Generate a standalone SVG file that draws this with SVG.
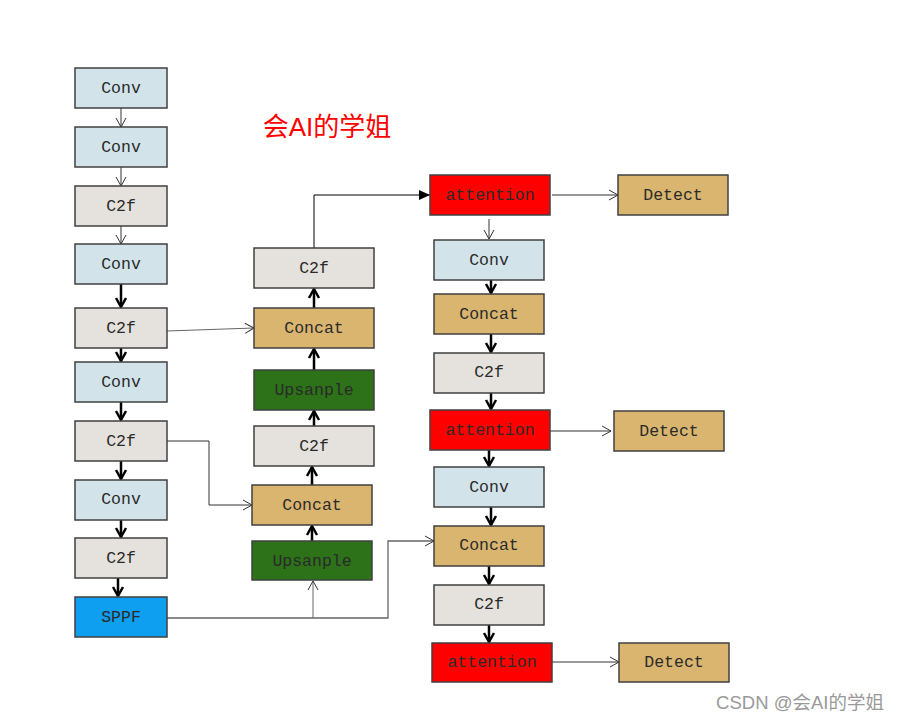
<svg xmlns="http://www.w3.org/2000/svg" width="899" height="721" viewBox="0 0 899 721">
<style>
.b{stroke:#404040;stroke-width:1.5}
.conv{fill:#D2E4EA}.c2f{fill:#E5E1DC}.cat{fill:#D9B56F}.up{fill:#2D7119}.sppf{fill:#0E9FF0}.att{fill:#FF0000}
.t{font-family:"Liberation Mono","Courier New",monospace;font-size:16.5px;fill:#2a2a2a;text-anchor:middle}
.thin{stroke:#333;stroke-width:1;fill:none}
.thick{stroke:#000;stroke-width:2.5;fill:none}
</style>
<defs>
<marker id="o" markerUnits="userSpaceOnUse" markerWidth="12" markerHeight="12" refX="11" refY="6" orient="auto"><path d="M2,1 L11,6 L2,11" fill="none" stroke="#333" stroke-width="1"/></marker>
<marker id="k" markerUnits="userSpaceOnUse" markerWidth="14" markerHeight="14" refX="11" refY="7" orient="auto"><path d="M2,2 L11,7 L2,12" fill="none" stroke="#000" stroke-width="2.5"/></marker>
<marker id="f" markerUnits="userSpaceOnUse" markerWidth="12" markerHeight="12" refX="11" refY="6" orient="auto"><path d="M0,1 L11,6 L0,11 Z" fill="#000"/></marker>
</defs>
<rect width="899" height="721" fill="#fff"/>
<text x="327" y="136" style="font-family:'Liberation Sans','Noto Sans CJK SC',sans-serif;font-size:26px;fill:#FF0000;text-anchor:middle">会AI的学姐</text>
<text x="800" y="709" style="font-family:'Liberation Sans','Noto Sans CJK SC',sans-serif;font-size:18.5px;fill:#999;text-anchor:middle">CSDN @会AI的学姐</text>
<g id="connectors">
<line class="thin" x1="121" y1="108" x2="121" y2="127" marker-end="url(#o)"/>
<line class="thin" x1="121" y1="167" x2="121" y2="186" marker-end="url(#o)"/>
<line class="thin" x1="121" y1="226" x2="121" y2="244" marker-end="url(#o)"/>
<line class="thick" x1="121" y1="284" x2="121" y2="307" marker-end="url(#k)"/>
<line class="thick" x1="121" y1="348" x2="121" y2="361" marker-end="url(#k)"/>
<line class="thick" x1="121" y1="402" x2="121" y2="420" marker-end="url(#k)"/>
<line class="thick" x1="121" y1="461" x2="121" y2="479" marker-end="url(#k)"/>
<line class="thick" x1="121" y1="520" x2="121" y2="537" marker-end="url(#k)"/>
<line class="thick" x1="118" y1="578" x2="118" y2="596" marker-end="url(#k)"/>
<line class="thin" x1="167" y1="331" x2="254" y2="328" marker-end="url(#o)" style="stroke:#666"/>
<polyline class="thin" points="167,441 209,441 209,505 252,505" marker-end="url(#o)"/>
<polyline class="thin" points="167,618 388,618 388,541 434,541" marker-end="url(#o)" style="stroke:#666;stroke-width:1.3"/>
<line class="thin" x1="313" y1="618" x2="313" y2="581" marker-end="url(#o)" style="stroke:#666"/>
<line class="thick" x1="312" y1="541" x2="312" y2="526" marker-end="url(#k)"/>
<line class="thick" x1="312" y1="485" x2="312" y2="467" marker-end="url(#k)"/>
<line class="thick" x1="314" y1="426" x2="314" y2="411" marker-end="url(#k)"/>
<line class="thick" x1="314" y1="370" x2="314" y2="349" marker-end="url(#k)"/>
<line class="thick" x1="314" y1="308" x2="314" y2="289" marker-end="url(#k)"/>
<polyline class="thin" points="314,248 314,195 430,195" marker-end="url(#f)" style="stroke:#000"/>
<line class="thin" x1="552" y1="195" x2="618" y2="195" marker-end="url(#o)"/>
<line class="thin" x1="489" y1="219" x2="489" y2="239" marker-end="url(#o)"/>
<line class="thick" x1="491" y1="280" x2="491" y2="293" marker-end="url(#k)"/>
<line class="thick" x1="491" y1="334" x2="491" y2="352" marker-end="url(#k)"/>
<line class="thick" x1="491" y1="393" x2="491" y2="409" marker-end="url(#k)"/>
<line class="thin" x1="550" y1="431" x2="611" y2="431" marker-end="url(#o)"/>
<line class="thick" x1="489" y1="450" x2="489" y2="466" marker-end="url(#k)"/>
<line class="thick" x1="491" y1="507" x2="491" y2="525" marker-end="url(#k)"/>
<line class="thick" x1="489" y1="566" x2="489" y2="584" marker-end="url(#k)"/>
<line class="thick" x1="489" y1="625" x2="489" y2="642" marker-end="url(#k)"/>
<line class="thin" x1="552" y1="662" x2="619" y2="662" marker-end="url(#o)"/>
</g>
<g id="n1"><rect class="b conv" x="75" y="68" width="92" height="40"/><text class="t" x="121" y="93">Conv</text></g>
<g id="n2"><rect class="b conv" x="75" y="127" width="92" height="40"/><text class="t" x="121" y="152">Conv</text></g>
<g id="n3"><rect class="b c2f" x="75" y="186" width="92" height="40"/><text class="t" x="121" y="211">C2f</text></g>
<g id="n4"><rect class="b conv" x="75" y="244" width="92" height="40"/><text class="t" x="121" y="269">Conv</text></g>
<g id="n5"><rect class="b c2f" x="75" y="308" width="92" height="40"/><text class="t" x="121" y="333">C2f</text></g>
<g id="n6"><rect class="b conv" x="75" y="362" width="92" height="40"/><text class="t" x="121" y="387">Conv</text></g>
<g id="n7"><rect class="b c2f" x="75" y="421" width="92" height="40"/><text class="t" x="121" y="446">C2f</text></g>
<g id="n8"><rect class="b conv" x="75" y="480" width="92" height="40"/><text class="t" x="121" y="504">Conv</text></g>
<g id="n9"><rect class="b c2f" x="75" y="538" width="92" height="40"/><text class="t" x="121" y="563">C2f</text></g>
<g id="n10"><rect class="b sppf" x="75" y="597" width="92" height="40"/><text class="t" x="121" y="622">SPPF</text></g>
<g id="m1"><rect class="b c2f" x="254" y="248" width="120" height="40"/><text class="t" x="314" y="273">C2f</text></g>
<g id="m2"><rect class="b cat" x="254" y="308" width="120" height="40"/><text class="t" x="314" y="333">Concat</text></g>
<g id="m3"><rect class="b up" x="254" y="370" width="120" height="40"/><text class="t" x="314" y="395">Upsanple</text></g>
<g id="m4"><rect class="b c2f" x="254" y="426" width="120" height="40"/><text class="t" x="314" y="451">C2f</text></g>
<g id="m5"><rect class="b cat" x="252" y="485" width="120" height="40"/><text class="t" x="312" y="510">Concat</text></g>
<g id="m6"><rect class="b up" x="252" y="541" width="120" height="39"/><text class="t" x="312" y="566">Upsanple</text></g>
<g id="r1"><rect class="b att" x="430" y="175" width="120" height="40"/><text class="t" x="490" y="200">attention</text></g>
<g id="d1"><rect class="b cat" x="618" y="175" width="110" height="40"/><text class="t" x="673" y="200">Detect</text></g>
<g id="r2"><rect class="b conv" x="434" y="240" width="110" height="40"/><text class="t" x="489" y="265">Conv</text></g>
<g id="r3"><rect class="b cat" x="434" y="294" width="110" height="40"/><text class="t" x="489" y="319">Concat</text></g>
<g id="r4"><rect class="b c2f" x="434" y="353" width="110" height="40"/><text class="t" x="489" y="377">C2f</text></g>
<g id="r5"><rect class="b att" x="430" y="410" width="120" height="40"/><text class="t" x="490" y="435">attention</text></g>
<g id="d2"><rect class="b cat" x="614" y="411" width="110" height="40"/><text class="t" x="669" y="436">Detect</text></g>
<g id="r6"><rect class="b conv" x="434" y="467" width="110" height="40"/><text class="t" x="489" y="492">Conv</text></g>
<g id="r7"><rect class="b cat" x="434" y="526" width="110" height="40"/><text class="t" x="489" y="550">Concat</text></g>
<g id="r8"><rect class="b c2f" x="434" y="585" width="110" height="40"/><text class="t" x="489" y="609">C2f</text></g>
<g id="r9"><rect class="b att" x="432" y="643" width="120" height="39"/><text class="t" x="492" y="667">attention</text></g>
<g id="d3"><rect class="b cat" x="619" y="643" width="110" height="39"/><text class="t" x="674" y="667">Detect</text></g>
</svg>
